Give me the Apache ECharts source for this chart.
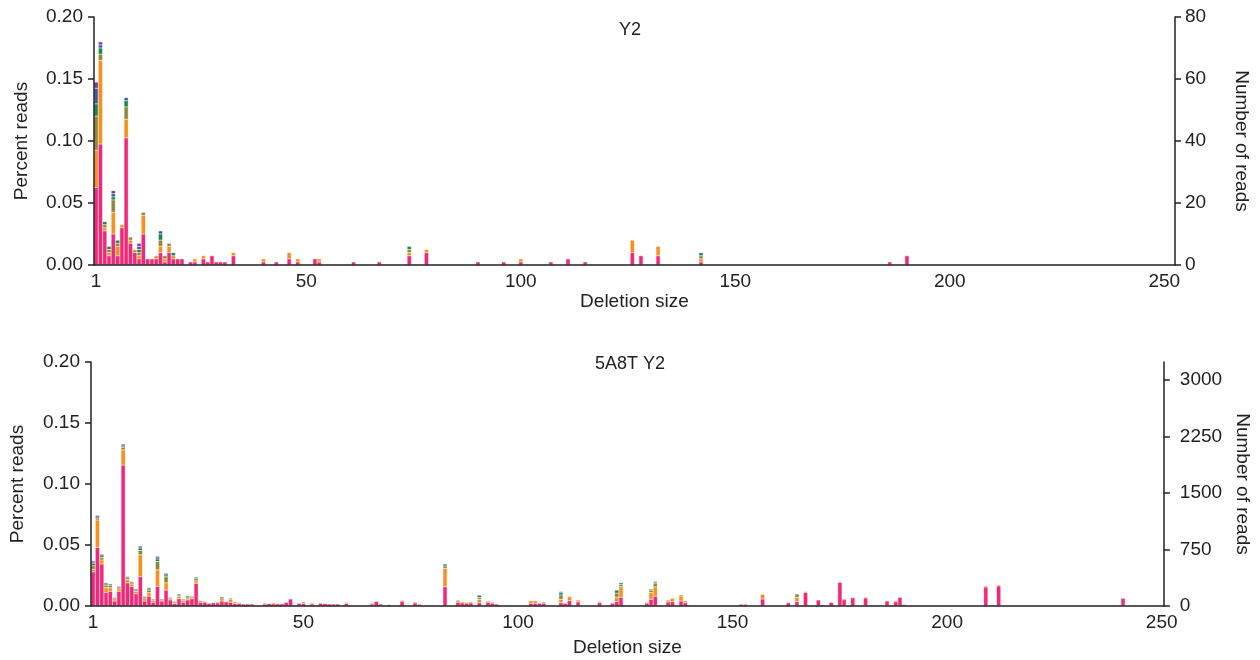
<!DOCTYPE html>
<html><head><meta charset="utf-8">
<script src="https://cdn.jsdelivr.net/npm/echarts@6/dist/echarts.min.js"></script>
<style>html,body{margin:0;padding:0;background:#fff}#c{width:1260px;height:660px}</style>
</head><body><div id="c"></div>
<script>
// ---------- labels ----------
const topTitle = 'Y2';
const bottomTitle = '5A8T Y2';
const xName = 'Deletion size';
const leftName = 'Percent reads';
const rightName = 'Number of reads';
const xTickValues = [1, 50, 100, 150, 200, 250];
const topRightTicks = [0, 20, 40, 60, 80];
const bottomRightTicks = [0, 750, 1500, 2250, 3000];
const topSizeCount = 252;     // deletion sizes 1..252 on the top axis
const bottomSizeCount = 250;  // deletion sizes 1..250 on the bottom axis
const seriesNames = ['Sample 1', 'Sample 2', 'Sample 3', 'Sample 4', 'Sample 5', 'Sample 6'];

// ---------- top panel (Y2): [deletion size, number of reads] ----------
const topPink = [[1,25],[2,39],[3,11],[4,3],[5,10],[6,3],[7,12],[8,41],[9,7],[10,4],[11,2],[12,10],[13,2],[14,2],[15,2],[16,4],[17,1],[18,4],[19,2],[20,2],[21,2],[23,1],[24,1],[26,2],[27,1],[28,3],[29,1],[30,1],[31,1],[33,3],[40,1],[43,1],[46,2],[48,1],[52,2],[53,1],[61,1],[67,1],[74,3],[78,4],[90,1],[96,1],[100,1],[107,1],[111,2],[115,1],[126,4],[128,3],[132,3],[142,1],[186,1],[190,3]];
const topOrange = [[1,12],[2,27],[3,1],[4,1],[5,7],[6,3],[7,1],[8,6],[9,1],[10,1],[11,1],[12,6],[15,1],[16,2],[17,1],[18,2],[19,1],[24,1],[26,1],[33,1],[40,1],[46,2],[48,1],[53,1],[74,1],[78,1],[100,1],[126,4],[132,3],[142,1]];
const topOlive = [[1,11],[2,2],[3,1],[4,1],[5,4],[6,1],[8,4],[9,1],[11,1],[12,1],[16,2],[17,1],[18,1],[74,1],[142,1]];
const topGreen = [[1,4],[2,2],[3,1],[4,1],[5,1],[6,1],[8,2],[11,1],[16,2],[19,1],[74,1],[142,1]];
const topBlue = [[1,5],[2,1],[5,1],[8,1],[11,1],[16,1]];
const topPurple = [[1,2],[2,1],[5,1],[11,1]];

// ---------- bottom panel (5A8T Y2): [deletion size, percent reads] ----------
const bottomPink = [[1,.028],[2,.048],[3,.0344],[4,.011],[5,.012],[6,.004],[7,.012],[8,.1155],[9,.019],[10,.016],
 [11,.010],[12,.024],[13,.004],[14,.008],[15,.003],[16,.016],[17,.004],[18,.013],[19,.005],[20,.002],
 [21,.006],[22,.003],[23,.005],[24,.006],[25,.0186],[26,.003],[27,.003],[28,.0022],[29,.0027],[30,.0025],
 [31,.004],[32,.0035],[33,.003],[34,.002],[35,.002],[36,.0016],[37,.0016],[38,.0016],
 [41,.0015],[42,.002],[43,.0018],[44,.0018],[45,.0018],[46,.003],[47,.0057],[49,.0022],[50,.002],[52,.0016],
 [54,.0022],[55,.002],[56,.0016],[57,.0016],[58,.0016],[60,.002],[66,.0016],[67,.0038],[68,.0016],[70,.0011],
 [73,.0038],[76,.0025],[77,.0014],[83,.0158],[86,.003],[87,.0025],[88,.0022],[89,.0025],[91,.0027],[93,.003],
 [94,.0022],[95,.0016],[103,.0022],[104,.0022],[105,.0022],[106,.0022],[110,.0027],[111,.0022],[112,.0044],[114,.0033],
 [119,.0027],[122,.0022],[123,.0036],[124,.0071],[130,.0022],[131,.0055],[132,.008],[135,.0033],[136,.0036],[138,.0041],
 [139,.0027],[152,.0014],[153,.0014],[157,.0057],[163,.0027],[165,.0036],[167,.011],[170,.0049],[171,.0008],[173,.003],
 [175,.0194],[176,.0052],[178,.0068],[181,.0065],[186,.0041],[188,.0035],[189,.0071],[190,.0012],[209,.0155],[212,.0164],
 [241,.0063]];
const bottomOrange = [[1,.002],[2,.0225],[3,.0033],[4,.004],[5,.003],[6,.002],[7,.002],[8,.0125],[9,.0027],[10,.002],
 [11,.002],[12,.018],[13,.002],[14,.003],[15,.0015],[16,.0137],[17,.001],[18,.006],[19,.001],[20,.001],
 [21,.002],[22,.0015],[23,.0015],[24,.0012],[25,.002],[26,.0014],[27,.0006],[30,.0008],
 [31,.002],[33,.0025],[34,.0013],[35,.0007],[41,.0007],[43,.0007],[50,.0013],[52,.0006],[60,.0007],[66,.0006],
 [73,.0006],[76,.0008],[83,.015],[86,.001],[87,.001],[88,.0005],[89,.001],[91,.0027],[93,.0011],
 [94,.0005],[103,.0022],[104,.0022],[106,.0011],[110,.0027],[112,.0033],[114,.0016],
 [119,.0009],[123,.0036],[124,.0087],[130,.0005],[131,.0055],[132,.0077],[135,.0016],[136,.0027],[138,.0041],
 [139,.0016],[157,.0038],[165,.0033],[167,.0007],[176,.0005],[181,.0006],[188,.0006],[209,.0009],[212,.0008]];
const bottomOlive = [[1,.003],[2,.0015],[3,.002],[4,.002],[5,.002],[6,.001],[7,.001],[8,.002],[9,.0015],[10,.001],
 [11,.001],[12,.0035],[13,.001],[14,.002],[15,.001],[16,.0068],[17,.0005],[18,.005],[19,.001],[20,.0006],
 [21,.001],[22,.001],[23,.001],[24,.0005],[25,.002],[31,.0006],[33,.0008],
 [83,.002],[86,.0004],[91,.0016],[110,.0036],[123,.0033],[124,.0019],[131,.0016],[132,.0027],[138,.0008],[165,.003]];
const bottomGreen = [[1,.002],[2,.001],[3,.0014],[4,.001],[5,.001],[7,.001],[8,.001],[9,.001],[10,.001],
 [11,.001],[12,.002],[13,.0007],[14,.001],[16,.002],[18,.0014],[21,.0008],[23,.0005],[25,.001],[31,.0005],
 [83,.0016],[91,.0019],[110,.0019],[123,.0025],[124,.0014],[131,.0011],[132,.0008]];
const bottomBlue = [[1,.001],[2,.0005],[3,.0005],[4,.001],[8,.001],[12,.001],[14,.001],[16,.0015],[18,.0014],[110,.0008],[132,.0008]];
const bottomPurple = [[1,.001],[2,.0005],[3,.0005],[8,.0005],[12,.0005],[16,.0005]];

// ---------- styling ----------
const colors = ['#EE2A7B', '#F7901E', '#8C8A3C', '#1C8A45', '#3D5BA9', '#7B3F98'];
const halos = ['rgba(238,42,123,0.35)', 'rgba(247,144,30,0.35)', 'rgba(140,138,60,0.35)', 'rgba(28,138,69,0.35)', 'rgba(61,91,169,0.35)', 'rgba(123,63,152,0.35)'];
const FONT = 'Liberation Sans, Arial, Helvetica, sans-serif';
const INK = '#222';

function categories(n) { const c = []; for (let s = 1; s <= n; s++) c.push(String(s)); return c; }
// Expand a sparse [size, value] list onto every size; empty sizes get an invisible 0 item.
function expand(list, n) {
  const m = new Map(list);
  const out = [];
  for (let s = 1; s <= n; s++) {
    if (m.has(s)) out.push(m.get(s));
    else out.push({ value: 0, itemStyle: { borderWidth: 0, opacity: 0 } });
  }
  return out;
}

const axisLineStyle = { color: INK, width: 1.5 };
const labelStyle = { color: INK, fontSize: 19, fontFamily: FONT };
const nameStyle = { color: INK, fontSize: 19, fontFamily: FONT };

function xAxis(gridIndex, n, gap) {
  return {
    type: 'category', gridIndex, data: categories(n), boundaryGap: true,
    name: xName, nameLocation: 'middle', nameGap: gap, nameTextStyle: nameStyle,
    axisLine: { show: true, onZero: false, lineStyle: axisLineStyle },
    axisTick: { show: false },
    splitLine: { show: false },
    axisLabel: Object.assign({ margin: 7, interval: (i, v) => xTickValues.indexOf(Number(v)) >= 0 }, labelStyle),
    z: 5
  };
}
function yLeft(gridIndex, gap) {
  return {
    type: 'value', gridIndex, position: 'left', min: 0, max: 0.2, interval: 0.05,
    name: leftName, nameLocation: 'middle', nameGap: gap, nameTextStyle: nameStyle,
    axisLine: { show: true, lineStyle: axisLineStyle },
    axisTick: { show: true, length: 6, lineStyle: axisLineStyle },
    splitLine: { show: false },
    axisLabel: Object.assign({ margin: 11, formatter: v => v.toFixed(2) }, labelStyle),
    z: 5
  };
}
function yRight(gridIndex, max, ticks, gap, margin) {
  return {
    type: 'value', gridIndex, position: 'right', min: 0, max,
    interval: ticks[1] - ticks[0],
    name: rightName, nameLocation: 'middle', nameGap: gap, nameRotate: -90, nameTextStyle: nameStyle,
    axisLine: { show: true, lineStyle: axisLineStyle },
    axisTick: { show: true, length: 6, lineStyle: axisLineStyle, customValues: ticks },
    splitLine: { show: false },
    axisLabel: Object.assign({ margin, customValues: ticks,
      formatter: v => (ticks.indexOf(v) >= 0 ? String(v) : '') }, labelStyle),
    z: 5
  };
}

function barSeries(lists, n, xi, yi, stack) {
  return lists.map((list, i) => ({
    name: seriesNames[i], type: 'bar', stack, xAxisIndex: xi, yAxisIndex: yi,
    data: expand(list, n), barCategoryGap: '0%', silent: true, animation: false,
    itemStyle: { color: colors[i], borderColor: halos[i], borderWidth: 1 }
  }));
}

const option = {
  backgroundColor: '#fff',
  animation: false,
  title: [
    { text: topTitle, left: 'center', top: 16, textStyle: { color: INK, fontSize: 18, fontWeight: 'normal', fontFamily: FONT } },
    { text: bottomTitle, left: 'center', top: 350, textStyle: { color: INK, fontSize: 18, fontWeight: 'normal', fontFamily: FONT } }
  ],
  grid: [
    { left: 94, right: 85, top: 17, bottom: 395 },
    { left: 89, right: 96, top: 362, bottom: 54 }
  ],
  xAxis: [xAxis(0, topSizeCount, 27), xAxis(1, bottomSizeCount, 32)],
  yAxis: [
    yLeft(0, 63),
    yRight(0, 80, topRightTicks, 57, 10),
    yLeft(1, 64),
    yRight(1, 3240, bottomRightTicks, 62, 16)
  ],
  series: [].concat(
    barSeries([topPink, topOrange, topOlive, topGreen, topBlue, topPurple], topSizeCount, 0, 1, 'top'),
    barSeries([bottomPink, bottomOrange, bottomOlive, bottomGreen, bottomBlue, bottomPurple], bottomSizeCount, 1, 2, 'bottom'))
};

const chart = echarts.init(document.getElementById('c'), null, { renderer: 'canvas' });
chart.setOption(option);
</script>
</body></html>
